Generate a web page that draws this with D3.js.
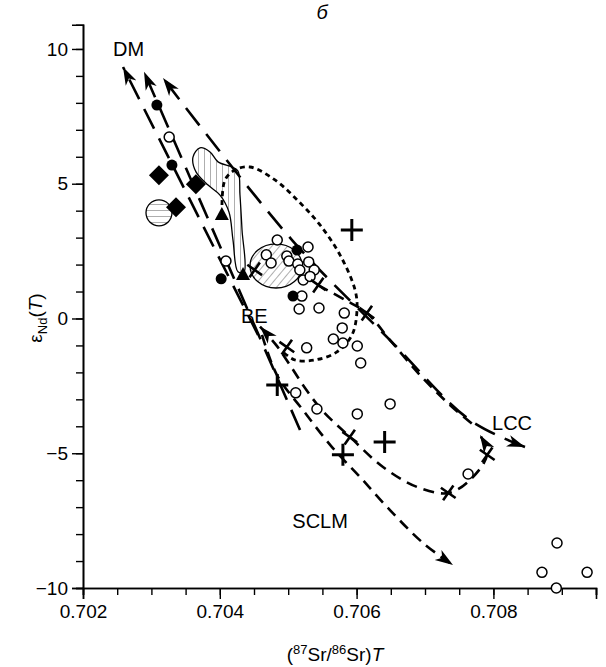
<!DOCTYPE html>
<meta charset='utf-8'>
<html>
<head>
    <script src="https://cdn.jsdelivr.net/npm/d3@7"></script>
    <style>
        body { margin: 0; padding: 0; background: #fff; }
        text { font-family: "Liberation Sans", Arial, sans-serif; fill: #000; }
    </style>
</head>
<body>
    <svg id="chart" width="606" height="667"></svg>
    <script>
        // axis ticks
        var xMajor = [0.702, 0.704, 0.706, 0.708];
        var yMajor = [-10, -5, 0, 5, 10];

        // samples [Sr, eNd]
        var openCircles = [
            [0.70326, 6.73], [0.70409, 2.13], [0.70484, 2.91], [0.70468, 2.36], [0.70475, 2.06],
            [0.70498, 2.32], [0.70501, 2.13], [0.70529, 2.65], [0.70514, 2.02], [0.70530, 2.10],
            [0.70517, 1.80], [0.70538, 1.80], [0.70522, 1.43], [0.70532, 1.56], [0.70520, 0.83],
            [0.70516, 0.35], [0.70545, 0.39], [0.70582, 0.20], [0.70579, -0.35], [0.70566, -0.76],
            [0.70580, -0.91], [0.70601, -1.02], [0.70527, -1.09], [0.70606, -1.65], [0.70511, -2.76],
            [0.70542, -3.36], [0.70601, -3.54], [0.70649, -3.17], [0.70763, -5.77],
            [0.70871, -9.42], [0.70893, -8.33], [0.70937, -9.42], [0.70892, -10.0]
        ];
        var filledCircles = [[0.70308, 7.92], [0.70330, 5.69], [0.70402, 1.47], [0.70513, 2.54], [0.70507, 0.83]];
        var diamonds = [[0.70311, 5.31], [0.70365, 4.98], [0.70336, 4.13]];
        var triangles = [[0.70403, 3.84], [0.70434, 1.61]];
        var pluses = [[0.70593, 3.28], [0.70484, -2.47], [0.70641, -4.58], [0.70580, -5.06]];
        var crosses = [
            [0.70451, 1.80], [0.70544, 1.24], [0.70615, 0.20], [0.70498, -1.06],
            [0.70590, -4.40], [0.70734, -6.47], [0.70791, -5.06]
        ];

        // fields
        var hatchCircle = { c: [0.703111, 3.92], r: 0.00019 };
        var hatchEllipse = { c: [0.704822, 1.95], rx: 0.00038, ry: 0.82 };
        var hatchWedge = [
            [0.703608, 5.99], [0.703710, 6.33], [0.703857, 6.18], [0.703974, 5.81], [0.704178, 5.62],
            [0.704266, 5.47], [0.704295, 4.58], [0.704325, 3.28], [0.704354, 1.73], [0.704266, 1.73],
            [0.704193, 2.91], [0.704134, 3.95], [0.704003, 4.58], [0.703828, 4.95], [0.703652, 5.44]
        ];

        // trends
        var dmLineA = [[0.704559, -0.61], [0.702585, 9.33]];
        var dmLineB = [[0.705173, -4.14], [0.702892, 9.15]];
        var dmLineC = [[0.708462, -4.77], [0.707658, -3.77], [0.706488, -0.80], [0.705056, 2.91], [0.70317, 8.92]];
        var sclmLine = [
            [0.704617, -0.61], [0.704836, -2.10], [0.705216, -3.40], [0.705640, -4.77],
            [0.706050, -5.88], [0.706488, -7.11], [0.706971, -8.33], [0.707409, -9.15]
        ];
        var loopLine = [
            [0.704588, -0.30], [0.704822, -0.98], [0.705026, -1.73], [0.705246, -2.58], [0.705494, -3.40],
            [0.705904, -4.40], [0.706386, -5.51], [0.706883, -6.25], [0.707336, -6.48],
            [0.707658, -5.99], [0.707906, -5.06], [0.707804, -4.32]
        ];
        var upperLine = [
            [0.705436, 1.24], [0.705830, 0.69], [0.706152, 0.20], [0.706488, -0.80], [0.706927, -2.10],
            [0.707365, -3.21], [0.707760, -4.06]
        ];
        var dottedLoop = [
            [0.704032, 4.21], [0.704076, 5.14], [0.704222, 5.51], [0.704441, 5.62], [0.704807, 5.14],
            [0.705173, 4.29], [0.705465, 3.47], [0.705757, 2.36], [0.705977, 1.06], [0.706006, 0.32],
            [0.705933, -0.61], [0.705713, -1.24], [0.705392, -1.54], [0.705099, -1.54], [0.704924, -1.24]
        ];

        var labels = [
            { t: "DM", p: [0.70244, 9.75] },
            { t: "BE", p: [0.70431, -0.17] },
            { t: "LCC", p: [0.70798, -4.13] },
            { t: "SCLM", p: [0.70506, -7.77] }
        ];

        var svg = d3.select("#chart");
        var x = d3.scaleLinear().domain([0.702, 0.7095]).range([83, 596]);
        var y = d3.scaleLinear().domain([-10, 10.9]).range([588, 24.7]);

        var defs = svg.append("defs");
        function hatch(id, angle) {
            var p = defs.append("pattern").attr("id", id).attr("patternUnits", "userSpaceOnUse")
                .attr("width", 6).attr("height", 6).attr("patternTransform", "rotate(" + angle + ")");
            p.append("line").attr("x1", 0).attr("y1", 0).attr("x2", 0).attr("y2", 6)
                .attr("stroke", "#333").attr("stroke-width", 0.8);
        }
        hatch("hv", 0);
        hatch("hh", 90);
        hatch("hd", 40);

        function arrowMarker(id, orient) {
            defs.append("marker").attr("id", id).attr("viewBox", "-18 -7 20 14")
                .attr("refX", 0).attr("refY", 0).attr("markerWidth", 20).attr("markerHeight", 14)
                .attr("markerUnits", "userSpaceOnUse").attr("orient", orient)
                .append("path").attr("d", "M0,0L-18,-6L-13,0L-18,6Z").attr("fill", "#000");
        }
        arrowMarker("arrow", "auto");
        arrowMarker("arrowStart", "auto-start-reverse");

        // axes
        var xAxis = d3.axisBottom(x).tickValues(d3.range(0.702, 0.70951, 0.0005)).tickSize(7).tickFormat("");
        svg.append("g").attr("transform", "translate(0,588)").call(xAxis);
        var xAxisMaj = d3.axisBottom(x).tickValues(xMajor).tickSize(11).tickPadding(6).tickFormat(d3.format(".3f"));
        svg.append("g").attr("transform", "translate(0,588)").call(xAxisMaj);
        var yAxis = d3.axisLeft(y).tickValues(d3.range(-10, 11, 1)).tickSize(7).tickFormat("");
        svg.append("g").attr("transform", "translate(83,0)").call(yAxis);
        var yAxisMaj = d3.axisLeft(y).tickValues(yMajor).tickSize(11).tickPadding(4)
            .tickFormat(function (d) { return d < 0 ? "\u2212" + (-d) : d; });
        svg.append("g").attr("transform", "translate(83,0)").call(yAxisMaj);
        svg.selectAll(".domain").attr("stroke-width", 1.6).attr("stroke", "#000");
        svg.selectAll(".tick line").attr("stroke-width", 1.4).attr("stroke", "#000");
        svg.selectAll(".tick text").attr("font-size", 19).attr("fill", "#000")
            .attr("font-family", "Liberation Sans, Arial, sans-serif");

        // title and axis labels
        svg.append("text").attr("x", 322).attr("y", 19).attr("text-anchor", "middle")
            .attr("font-family", "Liberation Serif, serif").attr("font-style", "italic")
            .attr("font-size", 20).text("б");

        var xl = svg.append("text").attr("x", 335).attr("y", 661).attr("text-anchor", "middle").attr("font-size", 19);
        xl.append("tspan").text("(");
        xl.append("tspan").attr("dy", -7).attr("font-size", 13).text("87");
        xl.append("tspan").attr("dy", 7).text("Sr/");
        xl.append("tspan").attr("dy", -7).attr("font-size", 13).text("86");
        xl.append("tspan").attr("dy", 7).text("Sr)");
        xl.append("tspan").attr("font-style", "italic").text("T");

        var yl = svg.append("text").attr("transform", "translate(42,318) rotate(-90)")
            .attr("text-anchor", "middle").attr("font-size", 19);
        yl.append("tspan").text("ε");
        yl.append("tspan").attr("dy", 5).attr("font-size", 13).text("Nd");
        yl.append("tspan").attr("dy", -5).text("(");
        yl.append("tspan").attr("font-style", "italic").text("T");
        yl.append("tspan").text(")");

        var line = d3.line().x(function (d) { return x(d[0]); }).y(function (d) { return y(d[1]); });
        var curve = d3.line().x(function (d) { return x(d[0]); }).y(function (d) { return y(d[1]); }).curve(d3.curveCatmullRom);
        var plot = svg.append("g");

        // hatched fields
        var pxPerSr = x(0.703) - x(0.702);
        plot.append("path").attr("d", d3.line().x(function (d) { return x(d[0]); }).y(function (d) { return y(d[1]); })
            .curve(d3.curveCatmullRomClosed)(hatchWedge))
            .attr("fill", "url(#hv)").attr("stroke", "#000").attr("stroke-width", 1.3);
        plot.append("ellipse").attr("cx", x(hatchEllipse.c[0])).attr("cy", y(hatchEllipse.c[1]))
            .attr("rx", hatchEllipse.rx * 1000 * pxPerSr).attr("ry", y(0) - y(hatchEllipse.ry))
            .attr("fill", "url(#hd)").attr("stroke", "#000").attr("stroke-width", 1.3);
        plot.append("circle").attr("cx", x(hatchCircle.c[0])).attr("cy", y(hatchCircle.c[1]))
            .attr("r", hatchCircle.r * 1000 * pxPerSr)
            .attr("fill", "url(#hh)").attr("stroke", "#000").attr("stroke-width", 1.3);

        // trend lines
        function trend(data, dash, width, arrowEnd, smooth) {
            var p = plot.append("path").attr("d", (smooth ? curve : line)(data))
                .attr("fill", "none").attr("stroke", "#000").attr("stroke-width", width)
                .attr("stroke-dasharray", dash);
            if (arrowEnd) p.attr("marker-end", "url(#arrow)");
            return p;
        }
        trend(dmLineA, "22,11", 2.6, true, false);
        trend(dmLineB, "22,11", 2.6, true, false);
        trend(dmLineC, "22,11", 2.6, true, true);
        trend(dmLineC.slice().reverse(), "0,10000", 2.6, true, true);
        trend(sclmLine, "11,7", 2.6, true, true);
        trend(loopLine, "11,7", 2.6, true, true).attr("marker-start", "url(#arrowStart)");
        trend(upperLine, "11,7", 2.6, false, true);
        trend(dottedLoop, "5,4", 2.8, false, true);

        // symbols
        plot.selectAll(".oc").data(openCircles).enter().append("circle")
            .attr("cx", function (d) { return x(d[0]); }).attr("cy", function (d) { return y(d[1]); })
            .attr("r", 5).attr("fill", "#fff").attr("stroke", "#000").attr("stroke-width", 1.5);
        plot.selectAll(".fc").data(filledCircles).enter().append("circle")
            .attr("cx", function (d) { return x(d[0]); }).attr("cy", function (d) { return y(d[1]); })
            .attr("r", 5.5).attr("fill", "#000");
        plot.selectAll(".dm").data(diamonds).enter().append("path")
            .attr("d", "M0,-10L10,0L0,10L-10,0Z")
            .attr("transform", function (d) { return "translate(" + x(d[0]) + "," + y(d[1]) + ")"; });
        plot.selectAll(".tr").data(triangles).enter().append("path")
            .attr("d", "M0,-8L7,5L-7,5Z")
            .attr("transform", function (d) { return "translate(" + x(d[0]) + "," + y(d[1]) + ")"; });
        plot.selectAll(".pl").data(pluses).enter().append("path")
            .attr("d", "M-11,0H11M0,-11V11").attr("stroke", "#000").attr("stroke-width", 3)
            .attr("transform", function (d) { return "translate(" + x(d[0]) + "," + y(d[1]) + ")"; });
        plot.selectAll(".cr").data(crosses).enter().append("path")
            .attr("d", "M-9,0H9M0,-9V9").attr("stroke", "#000").attr("stroke-width", 2.6)
            .attr("transform", function (d) { return "translate(" + x(d[0]) + "," + y(d[1]) + ") rotate(35)"; });

        svg.selectAll(".lbl").data(labels).enter().append("text")
            .attr("x", function (d) { return x(d.p[0]); }).attr("y", function (d) { return y(d.p[1]); })
            .attr("font-size", 20).attr("fill", "#000").text(function (d) { return d.t; });
    </script>
</body>
</html>
